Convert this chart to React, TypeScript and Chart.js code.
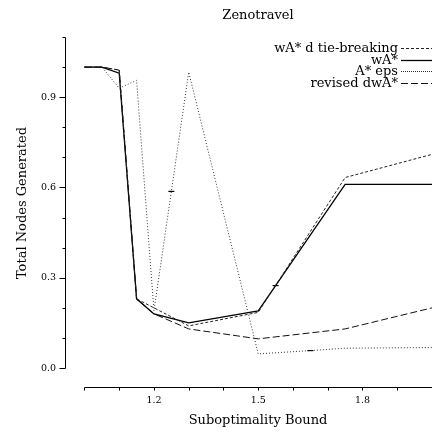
import { useEffect, useRef } from "react";
import { Chart, registerables } from "chart.js";

Chart.register(...registerables);

// ---------- data ----------
const chartTitle = "Zenotravel";
const xAxisTitle = "Suboptimality Bound";
const yAxisTitle = "Total Nodes Generated";

const seriesNames = ["wA* d tie-breaking", "wA*", "A* eps", "revised dwA*"];

const tieX = [1.0, 1.05, 1.1, 1.15, 1.2, 1.3, 1.5, 1.75, 2.0];
const tieY = [1.0, 1.0, 0.99, 0.23, 0.2, 0.14, 0.185, 0.633, 0.71];

const waX = [1.0, 1.05, 1.1, 1.15, 1.2, 1.3, 1.5, 1.55, 1.75, 2.0];
const waY = [1.0, 1.0, 0.98, 0.23, 0.18, 0.15, 0.19, 0.274, 0.61, 0.61];
const waMarks = [1.55];

const epsX = [1.0, 1.05, 1.1, 1.15, 1.2, 1.25, 1.3, 1.5, 1.65, 1.75, 2.0];
const epsY = [1.0, 1.0, 0.93, 0.956, 0.19, 0.587, 0.983, 0.047, 0.058, 0.066, 0.068];
const epsMarks = [1.25, 1.65];

const revX = [1.0, 1.05, 1.1, 1.15, 1.2, 1.3, 1.5, 1.75, 2.0];
const revY = [1.0, 1.0, 0.99, 0.23, 0.18, 0.13, 0.097, 0.13, 0.2];

const xTickValues = [1.0, 1.1, 1.2, 1.3, 1.4, 1.5, 1.6, 1.7, 1.8, 1.9, 2.0];
const xTickLabels = ["", "", "1.2", "", "", "1.5", "", "", "1.8", "", ""];
const yTickValues = [0.0, 0.1, 0.2, 0.3, 0.4, 0.5, 0.6, 0.7, 0.8, 0.9, 1.0, 1.1];
const yTickLabels = ["0.0", "", "", "0.3", "", "", "0.6", "", "", "0.9", "", ""];

// ---------- styling ----------
const FONT = "'DejaVu Serif', 'Liberation Serif', serif";
const X_MIN = 0.944;
const X_MAX = 2.0;
const Y_MIN = -0.063;
const Y_MAX = 1.1;

const toPts = (xs: number[], ys: number[]) => xs.map((x, i) => ({ x, y: ys[i] }));
const markRadius = (xs: number[], marks: number[]) =>
  xs.map((x) => (marks.includes(x) ? 3 : 0));

const decorPlugin = {
  id: "decor",
  afterDraw(chart: any) {
    const { ctx, chartArea } = chart;
    const xs = chart.scales.x;
    const ys = chart.scales.y;
    ctx.save();
    ctx.strokeStyle = "#000";
    ctx.lineWidth = 1;
    ctx.setLineDash([]);
    const ax = Math.round(chartArea.left) + 0.5;
    const ay = Math.round(chartArea.bottom) + 0.5;
    // y axis line
    ctx.beginPath();
    ctx.moveTo(ax, Math.round(ys.getPixelForValue(yTickValues[yTickValues.length - 1])) + 0.5);
    ctx.lineTo(ax, Math.round(ys.getPixelForValue(yTickValues[0])) + 0.5);
    ctx.stroke();
    // y ticks
    yTickValues.forEach((v, i) => {
      const py = Math.round(ys.getPixelForValue(v)) + 0.5;
      const len = yTickLabels[i] ? 6 : 3;
      ctx.beginPath();
      ctx.moveTo(ax - len, py);
      ctx.lineTo(ax, py);
      ctx.stroke();
    });
    // x axis line
    ctx.beginPath();
    ctx.moveTo(Math.round(xs.getPixelForValue(xTickValues[0])) + 0.5, ay);
    ctx.lineTo(Math.round(xs.getPixelForValue(xTickValues[xTickValues.length - 1])) + 0.5, ay);
    ctx.stroke();
    xTickValues.forEach((v) => {
      const px = Math.round(xs.getPixelForValue(v)) + 0.5;
      ctx.beginPath();
      ctx.moveTo(px, ay);
      ctx.lineTo(px, ay + 3);
      ctx.stroke();
    });

    // titles
    ctx.fillStyle = "#000";
    ctx.font = `13px ${FONT}`;
    ctx.textAlign = "center";
    ctx.textBaseline = "alphabetic";
    ctx.fillText(chartTitle, 258, 19);
    ctx.fillText(xAxisTitle, 258, 424);
    ctx.save();
    ctx.translate(26, 203);
    ctx.rotate(-Math.PI / 2);
    ctx.fillText(yAxisTitle, 0, 0);
    ctx.restore();

    // legend
    const baselines = [52, 63.5, 75, 86.5];
    chart.data.datasets.forEach((ds: any, i: number) => {
      const b = baselines[i];
      ctx.textAlign = "right";
      ctx.fillStyle = "#000";
      ctx.fillText(ds.label, 398, b);
      ctx.beginPath();
      ctx.setLineDash(ds.legendDash || []);
      ctx.lineWidth = ds.borderWidth;
      ctx.strokeStyle = ds.borderColor;
      ctx.moveTo(401, Math.round(b - 4) + 0.5);
      ctx.lineTo(432, Math.round(b - 4) + 0.5);
      ctx.stroke();
    });
    ctx.restore();
  },
};

export default function App() {
  const ref = useRef<HTMLCanvasElement | null>(null);

  useEffect(() => {
    if (!ref.current) return;
    const common = {
      fill: false,
      tension: 0,
      pointStyle: "line" as const,
      pointBorderColor: "#000",
      pointBorderWidth: 1.2,
      pointHoverRadius: 0,
    };
    const chart = new Chart(ref.current, {
      type: "line",
      data: {
        datasets: [
          {
            ...common,
            label: seriesNames[0],
            data: toPts(tieX, tieY),
            borderColor: "#222",
            borderWidth: 1,
            borderDash: [3, 2],
            legendDash: [3, 2],
            pointRadius: 0,
          } as any,
          {
            ...common,
            label: seriesNames[1],
            data: toPts(waX, waY),
            borderColor: "#000",
            borderWidth: 1.3,
            borderDash: [],
            legendDash: [],
            pointRadius: markRadius(waX, waMarks),
          } as any,
          {
            ...common,
            label: seriesNames[2],
            data: toPts(epsX, epsY),
            borderColor: "#333",
            borderWidth: 1,
            borderDash: [1, 2],
            legendDash: [1, 1],
            pointRadius: markRadius(epsX, epsMarks),
          } as any,
          {
            ...common,
            label: seriesNames[3],
            data: toPts(revX, revY),
            borderColor: "#111",
            borderWidth: 1,
            borderDash: [7, 3],
            legendDash: [7, 3],
            pointRadius: 0,
          } as any,
        ],
      },
      options: {
        animation: false,
        responsive: false,
        events: [],
        layout: { padding: { top: 37, right: 0, bottom: 0, left: 0 } },
        plugins: {
          legend: { display: false },
          title: { display: false },
          tooltip: { enabled: false },
        },
        scales: {
          x: {
            type: "linear",
            min: X_MIN,
            max: X_MAX,
            afterFit: (s: any) => {
              s.height = 45;
              s.paddingLeft = 0;
              s.paddingRight = 0;
            },
            afterBuildTicks: (s: any) => {
              s.ticks = xTickValues.map((v) => ({ value: v }));
            },
            ticks: {
              autoSkip: false,
              maxRotation: 0,
              padding: 8,
              color: "#000",
              font: { family: FONT, size: 9.5 },
              callback: (_v: any, i: number) => xTickLabels[i],
            },
            grid: { display: false, drawTicks: false, tickLength: 0 },
            border: { display: false },
          },
          y: {
            type: "linear",
            min: Y_MIN,
            max: Y_MAX,
            afterFit: (s: any) => {
              s.width = 65;
              s.paddingTop = 0;
              s.paddingBottom = 0;
            },
            afterBuildTicks: (s: any) => {
              s.ticks = yTickValues.map((v) => ({ value: v }));
            },
            ticks: {
              autoSkip: false,
              padding: 9,
              color: "#000",
              font: { family: FONT, size: 9.5 },
              callback: (_v: any, i: number) => yTickLabels[i],
            },
            grid: { display: false, drawTicks: false, tickLength: 0 },
            border: { display: false },
          },
        },
      } as any,
      plugins: [decorPlugin],
    });
    return () => chart.destroy();
  }, []);

  return (
    <div style={{ position: "fixed", left: 0, top: 0, width: 432, height: 432, background: "#fff" }}>
      <canvas ref={ref} width={432} height={432} style={{ display: "block" }} />
    </div>
  );
}
